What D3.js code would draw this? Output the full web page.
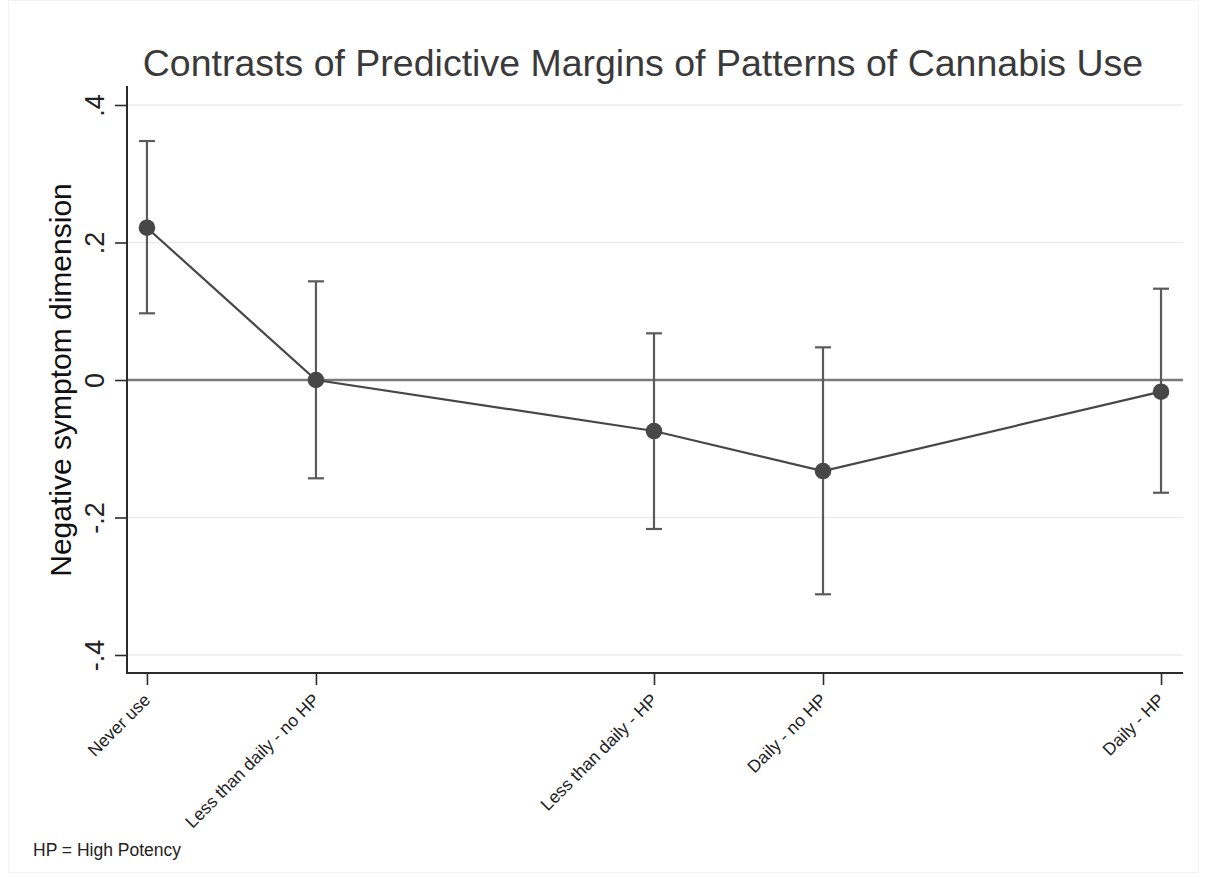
<!DOCTYPE html>
<html>
<head>
<meta charset="utf-8">
<script src="https://cdn.jsdelivr.net/npm/d3@7"></script>
<style>
  html, body { margin: 0; padding: 0; background: #fff; }
  svg { display: block; }
  text { font-family: "Liberation Sans", Arial, Helvetica, sans-serif; }
</style>
</head>
<body>
<svg id="chart" width="1205" height="878"></svg>
<script>
// Cannabis use patterns (category codes give the uneven spacing)
const categories = ["Never use", "Less than daily - no HP", "Less than daily - HP", "Daily - no HP", "Daily - HP"];
const codes = [1, 2, 4, 5, 7];
// Contrast estimates and 95% CI bounds
const estimates = [0.2215, 0, -0.0742, -0.1324, -0.017];
const ciLower = [0.097, -0.143, -0.2167, -0.3117, -0.164];
const ciUpper = [0.3476, 0.1435, 0.0679, 0.0475, 0.1328];
const yTicks = [-0.4, -0.2, 0, 0.2, 0.4];
const yTickLabels = ["-.4", "-.2", "0", ".2", ".4"];

const svg = d3.select("#chart");
const plot = { left: 127, right: 1183, top: 86, bottom: 673 };

// faint outer frame
svg.append("rect")
  .attr("x", 8.5).attr("y", 0.5).attr("width", 1190).attr("height", 872)
  .attr("fill", "none").attr("stroke", "#f3f3f3").attr("stroke-width", 1);

const x = d3.scaleLinear()
  .domain([0.882, 7.13])
  .range([plot.left, plot.right]);
const y = d3.scaleLinear()
  .domain([-0.4, 0.4])
  .range([655, 105]);

// gridlines
svg.append("g").selectAll("line")
  .data(yTicks.filter(d => d !== 0))
  .join("line")
  .attr("x1", plot.left).attr("x2", plot.right)
  .attr("y1", d => y(d)).attr("y2", d => y(d))
  .attr("stroke", "#ececec").attr("stroke-width", 1.5);

// reference line at zero
svg.append("line")
  .attr("x1", plot.left).attr("x2", plot.right)
  .attr("y1", y(0)).attr("y2", y(0))
  .attr("stroke", "#7a7a7a").attr("stroke-width", 2.4);

// y axis
const yAxis = d3.axisLeft(y).tickValues(yTicks)
  .tickFormat((d, i) => yTickLabels[i]).tickSize(12);
const gy = svg.append("g").attr("transform", `translate(${plot.left},0)`).call(yAxis);
gy.select(".domain").attr("d", `M0,${plot.top}V${plot.bottom}`)
  .attr("stroke", "#2b2b2b").attr("stroke-width", 2);
gy.selectAll(".tick line").attr("stroke", "#2b2b2b").attr("stroke-width", 1.6);
gy.selectAll(".tick text")
  .attr("font-size", 27).attr("fill", "#222")
  .attr("x", 0).attr("y", 0).attr("dy", null)
  .attr("text-anchor", "middle")
  .attr("transform", "translate(-23,0) rotate(-90)");

// x axis
const xAxis = d3.axisBottom(x).tickValues(codes)
  .tickFormat((d, i) => categories[i]).tickSize(12);
const gx = svg.append("g").attr("transform", `translate(0,${plot.bottom})`).call(xAxis);
gx.select(".domain").attr("d", `M${plot.left - 1},0H${plot.right}`)
  .attr("stroke", "#2b2b2b").attr("stroke-width", 2);
gx.selectAll(".tick line").attr("stroke", "#2b2b2b").attr("stroke-width", 1.6);
gx.selectAll(".tick text")
  .attr("font-size", 17.5).attr("fill", "#222")
  .attr("text-anchor", "end")
  .attr("x", 0).attr("y", 0).attr("dy", null)
  .attr("transform", "translate(4,28) rotate(-45)");

// error bars
const bars = svg.append("g").attr("stroke", "#5a5a5a").attr("stroke-width", 2.2);
codes.forEach((c, i) => {
  bars.append("line").attr("x1", x(c)).attr("x2", x(c))
    .attr("y1", y(ciLower[i])).attr("y2", y(ciUpper[i]));
  [ciLower[i], ciUpper[i]].forEach(v => {
    bars.append("line").attr("x1", x(c) - 8).attr("x2", x(c) + 8)
      .attr("y1", y(v)).attr("y2", y(v));
  });
});

// connecting line
const pts = codes.map((c, i) => [c, estimates[i]]);
svg.append("path")
  .datum(pts)
  .attr("fill", "none").attr("stroke", "#474747").attr("stroke-width", 2.2)
  .attr("d", d3.line().x(d => x(d[0])).y(d => y(d[1])));

// markers
svg.append("g").selectAll("circle")
  .data(pts).join("circle")
  .attr("cx", d => x(d[0])).attr("cy", d => y(d[1]))
  .attr("r", 8.3).attr("fill", "#474747");

// title
svg.append("text")
  .attr("x", 643).attr("y", 76)
  .attr("text-anchor", "middle")
  .attr("font-size", 37.5).attr("fill", "#3a3a3a")
  .text("Contrasts of Predictive Margins of Patterns of Cannabis Use");

// y axis title
svg.append("text")
  .attr("transform", `translate(71,${380}) rotate(-90)`)
  .attr("text-anchor", "middle")
  .attr("font-size", 30).attr("fill", "#111")
  .text("Negative symptom dimension");

// footnote
svg.append("text")
  .attr("x", 33).attr("y", 856)
  .attr("font-size", 17.5).attr("fill", "#222")
  .text("HP = High Potency");
</script>
</body>
</html>
